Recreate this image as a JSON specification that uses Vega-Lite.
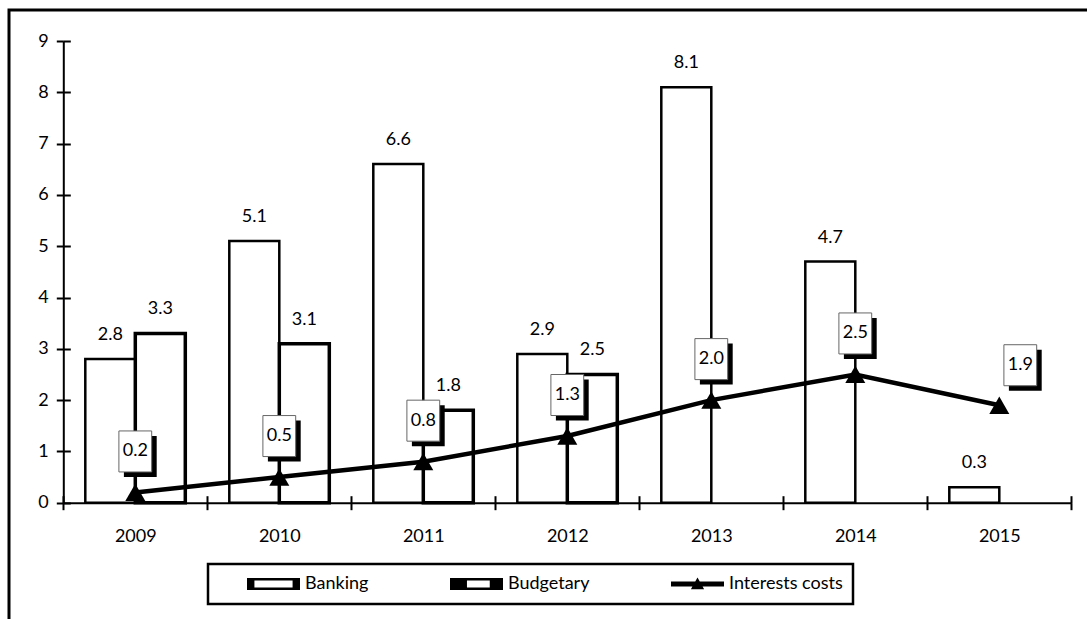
{
  "$schema": "https://vega.github.io/schema/vega-lite/v6.json",
  "width": 1082,
  "height": 612,
  "autosize": {"type": "none"},
  "padding": {"left": 9, "top": 10, "right": -4, "bottom": -3},
  "background": "white",
  "config": {
    "font": "Lato",
    "view": {"stroke": "black", "strokeWidth": 3},
    "axis": {
      "domainColor": "black",
      "domainWidth": 2,
      "tickColor": "black",
      "tickWidth": 2,
      "tickSize": 7,
      "labelFont": "Lato",
      "labelFontSize": 18,
      "labelColor": "black",
      "grid": false,
      "title": null
    },
    "legend": {"strokeWidth": 2.5},
    "text": {"font": "Lato", "fontSize": 18, "color": "black"}
  },
  "data": {
    "values": [
      {"Year": "2009", "Series": "Banking", "Value": 2.8},
      {"Year": "2010", "Series": "Banking", "Value": 5.1},
      {"Year": "2011", "Series": "Banking", "Value": 6.6},
      {"Year": "2012", "Series": "Banking", "Value": 2.9},
      {"Year": "2013", "Series": "Banking", "Value": 8.1},
      {"Year": "2014", "Series": "Banking", "Value": 4.7},
      {"Year": "2015", "Series": "Banking", "Value": 0.3},
      {"Year": "2009", "Series": "Budgetary", "Value": 3.3},
      {"Year": "2010", "Series": "Budgetary", "Value": 3.1},
      {"Year": "2011", "Series": "Budgetary", "Value": 1.8},
      {"Year": "2012", "Series": "Budgetary", "Value": 2.5},
      {"Year": "2009", "Series": "Interests costs", "Value": 0.2},
      {"Year": "2010", "Series": "Interests costs", "Value": 0.5},
      {"Year": "2011", "Series": "Interests costs", "Value": 0.8},
      {"Year": "2012", "Series": "Interests costs", "Value": 1.3},
      {"Year": "2013", "Series": "Interests costs", "Value": 2.0},
      {"Year": "2014", "Series": "Interests costs", "Value": 2.5},
      {"Year": "2015", "Series": "Interests costs", "Value": 1.9}
    ]
  },
  "resolve": {"axis": {"x": "independent", "y": "independent"}},
  "layer": [
    {
      "transform": [{"filter": "datum.Series !== 'Interests costs'"}],
      "mark": {"type": "bar", "fill": "white", "stroke": "black"},
      "encoding": {
        "x": {
          "field": "Year",
          "type": "ordinal",
          "scale": {"range": [54.3, 1062.3], "paddingInner": 0, "paddingOuter": 0},
          "axis": {"orient": "bottom", "offset": -119.3, "tickBand": "extent", "labelPadding": 18, "labelAngle": 0}
        },
        "xOffset": {
          "field": "Series",
          "type": "nominal",
          "scale": {"domain": ["Banking", "Budgetary"], "paddingInner": 0, "paddingOuter": 0.44}
        },
        "y": {
          "field": "Value",
          "type": "quantitative",
          "scale": {"domain": [0, 9], "range": [492.7, 31], "nice": false},
          "axis": {"orient": "left", "offset": -54.3, "values": [0, 1, 2, 3, 4, 5, 6, 7, 8, 9], "labelPadding": 8}
        },
        "strokeWidth": {"condition": {"test": "datum.Series === 'Budgetary'", "value": 3.5}, "value": 2.5}
      }
    },
    {
      "transform": [{"filter": "datum.Series === 'Interests costs'"}],
      "mark": {"type": "line", "strokeWidth": 4.5, "color": "black"},
      "encoding": {
        "x": {
          "field": "Year",
          "type": "ordinal",
          "axis": {"orient": "top", "offset": -492.7, "tickBand": "extent", "labels": false, "domain": false}
        },
        "y": {
          "field": "Value",
          "type": "quantitative",
          "axis": {"orient": "right", "offset": -1027.7, "values": [0, 1, 2, 3, 4, 5, 6, 7, 8, 9], "labels": false, "domain": false}
        }
      }
    },
    {
      "mark": {"type": "point", "filled": true, "color": "black", "opacity": 0},
      "encoding": {
        "x": {"field": "Year", "type": "ordinal", "axis": null},
        "y": {"field": "Value", "type": "quantitative", "axis": null},
        "shape": {
          "field": "Series",
          "type": "nominal",
          "scale": {
            "domain": ["Banking", "Budgetary", "Interests costs"],
            "range": [
              "M-1,-0.226H1V0.226H-1Z M-0.72,-0.132V0.132H0.72V-0.132Z",
              "M-1,-0.226H1V0.226H-1Z M-0.36,-0.132V0.132H0.5V-0.132Z",
              "M-1,-0.09H1V0.09H-1Z M-0.25,0.2L0,-0.25L0.25,0.2Z"
            ]
          },
          "legend": {
            "orient": "none",
            "legendX": 199,
            "legendY": 554,
            "direction": "horizontal",
            "title": null,
            "padding": 10,
            "strokeColor": "black",
            "fillColor": "white",
            "symbolSize": 2809,
            "symbolOpacity": 1,
            "symbolFillColor": "black",
            "symbolStrokeWidth": 0,
            "symbolOffset": 29,
            "labelOffset": 5,
            "columnPadding": 52,
            "clipHeight": 20,
            "labelFont": "Lato",
            "labelFontSize": 18,
            "labelColor": "black",
            "labelLimit": 300
          }
        }
      }
    },
    {
      "transform": [{"filter": "datum.Series === 'Interests costs'"}],
      "mark": {"type": "point", "shape": "triangle-up", "filled": true, "color": "black", "size": 400, "opacity": 1},
      "encoding": {
        "x": {"field": "Year", "type": "ordinal", "axis": null},
        "y": {"field": "Value", "type": "quantitative", "axis": null}
      }
    },
    {
      "transform": [{"filter": "datum.Series === 'Interests costs' && datum.Year !== '2015'"}],
      "mark": {"type": "point", "shape": "M-0.8,-1H0.8V1H-0.8Z", "size": 1681, "filled": true, "color": "black", "opacity": 1, "xOffset": 5, "yOffset": -36},
      "encoding": {
        "x": {"field": "Year", "type": "ordinal", "axis": null},
        "y": {"field": "Value", "type": "quantitative", "axis": null}
      }
    },
    {
      "transform": [{"filter": "datum.Series === 'Interests costs' && datum.Year !== '2015'"}],
      "mark": {"type": "point", "shape": "M-0.8,-1H0.8V1H-0.8Z", "size": 1681, "filled": true, "fill": "white", "stroke": "#666666", "strokeWidth": 1, "opacity": 1, "yOffset": -41},
      "encoding": {
        "x": {"field": "Year", "type": "ordinal", "axis": null},
        "y": {"field": "Value", "type": "quantitative", "axis": null}
      }
    },
    {
      "transform": [{"filter": "datum.Series === 'Interests costs' && datum.Year !== '2015'"}],
      "mark": {"type": "text", "baseline": "middle", "dy": -41, "fontSize": 18},
      "encoding": {
        "x": {"field": "Year", "type": "ordinal", "axis": null},
        "y": {"field": "Value", "type": "quantitative", "axis": null},
        "text": {"field": "Value", "type": "quantitative", "format": ".1f"}
      }
    },
    {
      "transform": [{"filter": "datum.Series === 'Interests costs' && datum.Year === '2015'"}],
      "mark": {"type": "point", "shape": "M-0.8,-1H0.8V1H-0.8Z", "size": 1681, "filled": true, "color": "black", "opacity": 1, "xOffset": 26, "yOffset": -35},
      "encoding": {
        "x": {"field": "Year", "type": "ordinal", "axis": null},
        "y": {"field": "Value", "type": "quantitative", "axis": null}
      }
    },
    {
      "transform": [{"filter": "datum.Series === 'Interests costs' && datum.Year === '2015'"}],
      "mark": {"type": "point", "shape": "M-0.8,-1H0.8V1H-0.8Z", "size": 1681, "filled": true, "fill": "white", "stroke": "#666666", "strokeWidth": 1, "opacity": 1, "xOffset": 21, "yOffset": -40},
      "encoding": {
        "x": {"field": "Year", "type": "ordinal", "axis": null},
        "y": {"field": "Value", "type": "quantitative", "axis": null}
      }
    },
    {
      "transform": [{"filter": "datum.Series === 'Interests costs' && datum.Year === '2015'"}],
      "mark": {"type": "text", "baseline": "middle", "dx": 21, "dy": -40, "fontSize": 18},
      "encoding": {
        "x": {"field": "Year", "type": "ordinal", "axis": null},
        "y": {"field": "Value", "type": "quantitative", "axis": null},
        "text": {"field": "Value", "type": "quantitative", "format": ".1f"}
      }
    },
    {
      "transform": [{"filter": "datum.Series !== 'Interests costs'"}],
      "mark": {"type": "text", "baseline": "alphabetic", "dy": -19, "fontSize": 18},
      "encoding": {
        "x": {"field": "Year", "type": "ordinal", "axis": null},
        "xOffset": {"field": "Series", "type": "nominal"},
        "y": {"field": "Value", "type": "quantitative", "axis": null},
        "text": {"field": "Value", "type": "quantitative", "format": ".1f"}
      }
    }
  ]
}
